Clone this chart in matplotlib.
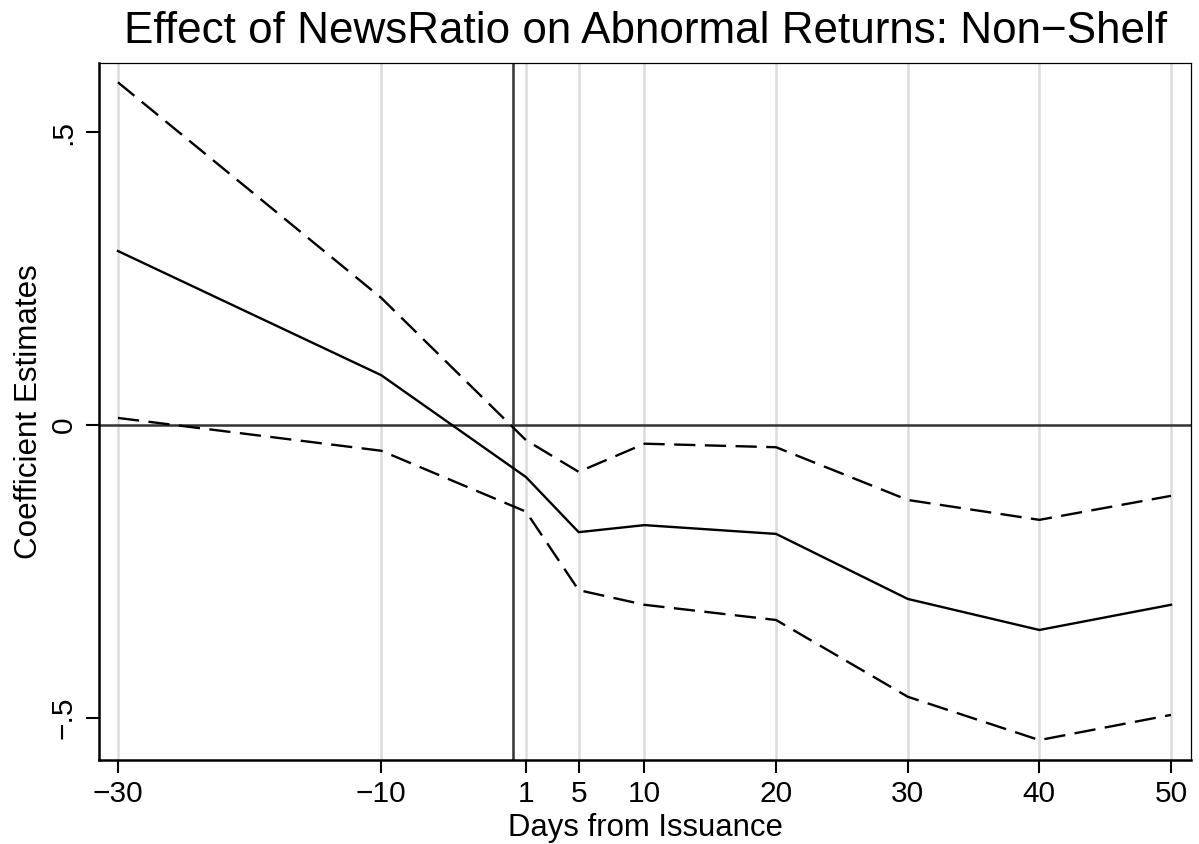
import matplotlib
matplotlib.use("Agg")
import matplotlib.pyplot as plt

days = [-30, -10, 1, 5, 10, 20, 30, 40, 50]
coef = [0.297, 0.085, -0.089, -0.183, -0.171, -0.186, -0.297, -0.350, -0.307]
upper = [0.585, 0.217, -0.026, -0.080, -0.032, -0.038, -0.128, -0.162, -0.121]
lower = [0.012, -0.044, -0.148, -0.282, -0.307, -0.333, -0.464, -0.538, -0.495]
xticks = [-30, -10, 1, 5, 10, 20, 30, 40, 50]
yticks = [-0.5, 0, 0.5]
yticklabels = ["\u2212.5", "0", ".5"]

plt.rcParams['font.family'] = ['Liberation Sans', 'DejaVu Sans']

W, H = 1199, 844
fig = plt.figure(figsize=(W/100, H/100), dpi=100)
ax = fig.add_axes([99/W, 1-760/H, (1191-99)/W, (760-63)/H])

for x in xticks:
    ax.axvline(x, color='#dcdcdc', lw=1.8, zorder=0)
ax.axhline(0, color='#333333', lw=1.8, zorder=1)
ax.axvline(0, color='#333333', lw=1.8, zorder=1)

ax.plot(days, coef, color='black', lw=1.7, zorder=3)
ax.plot(days, upper, color='black', lw=1.7, dashes=(9, 4), zorder=3)
ax.plot(days, lower, color='black', lw=1.7, dashes=(9, 4), zorder=3)

ax.set_xlim(-31.44, 51.52)
ax.set_ylim(-0.572, 0.618)
ax.set_xticks(xticks)
ax.set_xticklabels([str(x).replace('-', '\u2212') for x in xticks], fontsize=21.5)
ax.set_yticks(yticks)
ax.set_yticklabels(yticklabels, fontsize=21.5, rotation=90, va='center')
ax.tick_params(axis='both', length=9.4, width=1.5, color='black')
ax.tick_params(axis='x', pad=5)
ax.tick_params(axis='y', pad=6)

for s in ['left', 'bottom']:
    ax.spines[s].set_linewidth(1.8)
for s in ['top', 'right']:
    ax.spines[s].set_linewidth(0.9)

fig.text(645/W, 1-836/H, 'Days from Issuance', ha='center', va='baseline', fontsize=22.4)
fig.text(29/W, 1-411.5/H, 'Coefficient Estimates', ha='center', va='center',
         rotation=90, fontsize=22.6)
fig.text(646/W, 1-43/H, 'Effect of NewsRatio on Abnormal Returns: Non\u2212Shelf',
         ha='center', va='baseline', fontsize=31.7)

fig.savefig('out.png', dpi=100)
